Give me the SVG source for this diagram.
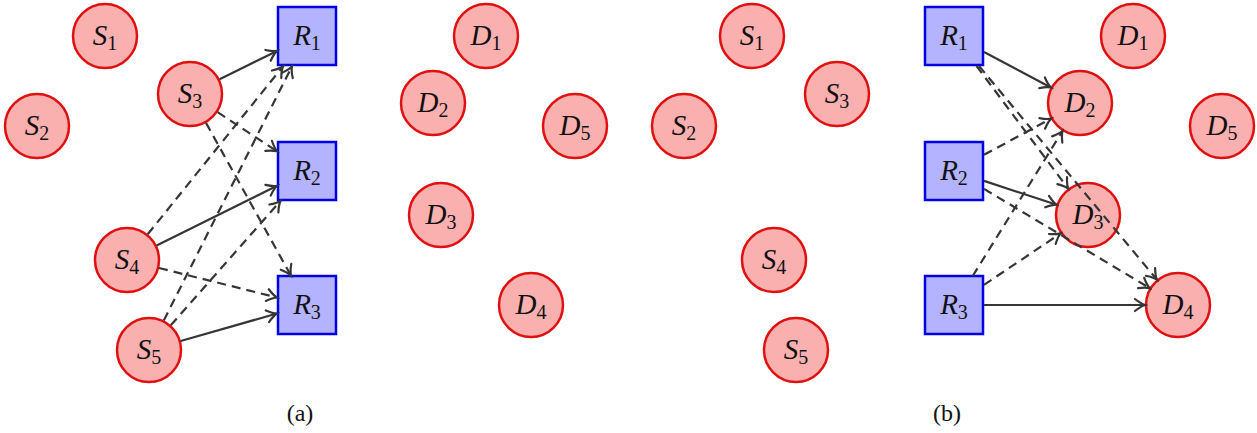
<svg xmlns="http://www.w3.org/2000/svg" width="1257" height="433" viewBox="0 0 1257 433">
<style>
.c{fill:#fbb0b0;stroke:#e01010;stroke-width:2.5}
.r{fill:#b3b3ff;stroke:#0000e6;stroke-width:2.5}
.t{font-family:"Liberation Serif","Times New Roman",serif;font-size:29px;font-style:italic;fill:#111;text-anchor:middle}
.s{font-size:20px;font-style:normal}
.e{fill:none;stroke:#363636;stroke-width:2.2;marker-end:url(#ah)}
.d{stroke-dasharray:9 6}
.cap{font-family:"Liberation Serif","Times New Roman",serif;font-size:24px;fill:#111;text-anchor:middle}
</style>
<defs>
<marker id="ah" markerUnits="userSpaceOnUse" markerWidth="16" markerHeight="16" viewBox="-12 -8 14 16" refX="0" refY="0" orient="auto">
<path d="M-10,-6 Q-4,-1.2 0,0 Q-4,1.2 -10,6" fill="none" stroke="#363636" stroke-width="2.2" stroke-dasharray="none" stroke-linecap="round"/>
</marker>
</defs>
<rect width="1257" height="433" fill="#fff"/>

<!-- panel (a) nodes -->
<g id="a-S1"><circle class="c" cx="105" cy="36" r="32"/><text class="t" x="105" y="45">S<tspan class="s" dy="5">1</tspan></text></g>
<g id="a-S2"><circle class="c" cx="37" cy="126" r="32"/><text class="t" x="37" y="135">S<tspan class="s" dy="5">2</tspan></text></g>
<g id="a-S3"><circle class="c" cx="190" cy="94" r="32"/><text class="t" x="190" y="103">S<tspan class="s" dy="5">3</tspan></text></g>
<g id="a-S4"><circle class="c" cx="127" cy="260" r="32"/><text class="t" x="127" y="269">S<tspan class="s" dy="5">4</tspan></text></g>
<g id="a-S5"><circle class="c" cx="149" cy="350" r="32"/><text class="t" x="149" y="359">S<tspan class="s" dy="5">5</tspan></text></g>
<g id="a-R1"><rect class="r" x="278" y="7" width="58" height="58"/><text class="t" x="307" y="45">R<tspan class="s" dy="5">1</tspan></text></g>
<g id="a-R2"><rect class="r" x="278" y="142" width="58" height="58"/><text class="t" x="307" y="180">R<tspan class="s" dy="5">2</tspan></text></g>
<g id="a-R3"><rect class="r" x="278" y="276" width="58" height="58"/><text class="t" x="307" y="314">R<tspan class="s" dy="5">3</tspan></text></g>
<g id="a-D1"><circle class="c" cx="486" cy="36" r="32"/><text class="t" x="486" y="45">D<tspan class="s" dy="5">1</tspan></text></g>
<g id="a-D2"><circle class="c" cx="433" cy="103" r="32"/><text class="t" x="433" y="112">D<tspan class="s" dy="5">2</tspan></text></g>
<g id="a-D3"><circle class="c" cx="441" cy="215" r="32"/><text class="t" x="441" y="224">D<tspan class="s" dy="5">3</tspan></text></g>
<g id="a-D4"><circle class="c" cx="531" cy="305" r="32"/><text class="t" x="531" y="314">D<tspan class="s" dy="5">4</tspan></text></g>
<g id="a-D5"><circle class="c" cx="575" cy="126" r="32"/><text class="t" x="575" y="135">D<tspan class="s" dy="5">5</tspan></text></g>

<!-- panel (b) nodes -->
<g id="b-S1"><circle class="c" cx="752" cy="36" r="32"/><text class="t" x="752" y="45">S<tspan class="s" dy="5">1</tspan></text></g>
<g id="b-S2"><circle class="c" cx="684" cy="126" r="32"/><text class="t" x="684" y="135">S<tspan class="s" dy="5">2</tspan></text></g>
<g id="b-S3"><circle class="c" cx="837" cy="94" r="32"/><text class="t" x="837" y="103">S<tspan class="s" dy="5">3</tspan></text></g>
<g id="b-S4"><circle class="c" cx="774" cy="260" r="32"/><text class="t" x="774" y="269">S<tspan class="s" dy="5">4</tspan></text></g>
<g id="b-S5"><circle class="c" cx="796" cy="350" r="32"/><text class="t" x="796" y="359">S<tspan class="s" dy="5">5</tspan></text></g>
<g id="b-R1"><rect class="r" x="925" y="7" width="58" height="58"/><text class="t" x="954" y="45">R<tspan class="s" dy="5">1</tspan></text></g>
<g id="b-R2"><rect class="r" x="925" y="142" width="58" height="58"/><text class="t" x="954" y="180">R<tspan class="s" dy="5">2</tspan></text></g>
<g id="b-R3"><rect class="r" x="925" y="276" width="58" height="58"/><text class="t" x="954" y="314">R<tspan class="s" dy="5">3</tspan></text></g>
<g id="b-D1"><circle class="c" cx="1133" cy="36" r="32"/><text class="t" x="1133" y="45">D<tspan class="s" dy="5">1</tspan></text></g>
<g id="b-D2"><circle class="c" cx="1080" cy="103" r="32"/><text class="t" x="1080" y="112">D<tspan class="s" dy="5">2</tspan></text></g>
<g id="b-D3"><circle class="c" cx="1088" cy="215" r="32"/><text class="t" x="1088" y="224">D<tspan class="s" dy="5">3</tspan></text></g>
<g id="b-D4"><circle class="c" cx="1178" cy="305" r="32"/><text class="t" x="1178" y="314">D<tspan class="s" dy="5">4</tspan></text></g>
<g id="b-D5"><circle class="c" cx="1222" cy="126" r="32"/><text class="t" x="1222" y="135">D<tspan class="s" dy="5">5</tspan></text></g>

<!-- connectors -->
<g id="connectors">
<line class="e" x1="219.6" y1="79.3" x2="277" y2="50.9"/>
<line class="e d" x1="217.6" y1="112.1" x2="277" y2="151.3"/>
<line class="e d" x1="206" y1="122.9" x2="290.9" y2="275.5"/>
<line class="e d" x1="147.7" y1="234.3" x2="282.9" y2="66.5"/>
<line class="e" x1="156.6" y1="245.4" x2="277" y2="185.8"/>
<line class="e d" x1="159" y1="268" x2="277" y2="297.5"/>
<line class="e d" x1="163.8" y1="320.5" x2="291.9" y2="66.5"/>
<line class="e d" x1="170.8" y1="325.3" x2="280.5" y2="201"/>
<line class="e" x1="180.7" y1="341" x2="277" y2="313.5"/>

<line class="e" x1="984" y1="52" x2="1050.9" y2="87.5"/>
<line class="e d" x1="976.5" y1="66" x2="1068.2" y2="188.6"/>
<line class="e d" x1="979" y1="66" x2="1156.9" y2="279.6"/>
<line class="e d" x1="984" y1="154.8" x2="1051" y2="118.7"/>
<line class="e" x1="984" y1="180.9" x2="1056.6" y2="204.7"/>
<line class="e d" x1="984" y1="188.9" x2="1149.7" y2="288.1"/>
<line class="e d" x1="972.7" y1="276" x2="1062.5" y2="131"/>
<line class="e d" x1="984" y1="284.9" x2="1060.6" y2="233.4"/>
<line class="e" x1="984" y1="305" x2="1145" y2="305"/>
</g>

<text class="cap" x="300" y="421">(a)</text>
<text class="cap" x="947" y="421">(b)</text>
</svg>
